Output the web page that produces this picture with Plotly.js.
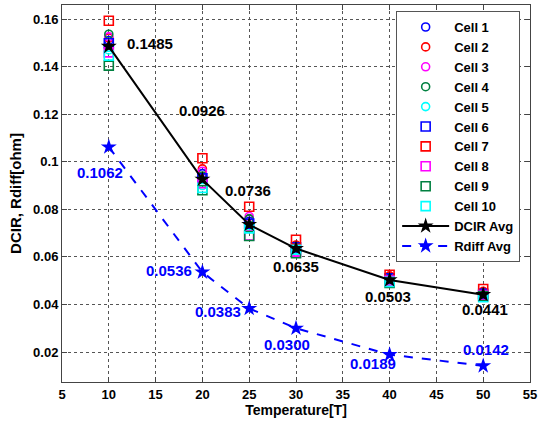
<!DOCTYPE html>
<html>
<head>
<meta charset="utf-8">
<script src="https://cdn.plot.ly/plotly-3.0.1.min.js"></script>
<style>html,body{margin:0;padding:0;background:#fff;}#chart{width:540px;height:423px;}</style>
</head>
<body>
<div id="chart"></div>
<script>
// Temperatures
const temps = [10, 20, 25, 30, 40, 50];
// Individual cell DCIR values (ohm)
const cell1  = [0.1510, 0.0950, 0.0750, 0.0640, 0.0510, 0.0450];
const cell2  = [0.1520, 0.0970, 0.0760, 0.0650, 0.0520, 0.0455];
const cell3  = [0.1525, 0.0960, 0.0770, 0.0620, 0.0500, 0.0440];
const cell4  = [0.1536, 0.0940, 0.0760, 0.0640, 0.0505, 0.0445];
const cell5  = [0.1470, 0.0900, 0.0730, 0.0630, 0.0500, 0.0435];
const cell6  = [0.1498, 0.0930, 0.0740, 0.0640, 0.0510, 0.0445];
const cell7  = [0.1593, 0.1015, 0.0811, 0.0672, 0.0525, 0.0465];
const cell8  = [0.1460, 0.0910, 0.0690, 0.0620, 0.0500, 0.0440];
const cell9  = [0.1404, 0.0880, 0.0688, 0.0615, 0.0490, 0.0435];
const cell10 = [0.1446, 0.0890, 0.0720, 0.0630, 0.0495, 0.0430];
// Averages
const dcirAvg  = [0.1485, 0.0926, 0.0736, 0.0635, 0.0503, 0.0441];
const rdiffAvg = [0.1062, 0.0536, 0.0383, 0.0300, 0.0189, 0.0142];
const dcirLabels  = ["0.1485", "0.0926", "0.0736", "0.0635", "0.0503", "0.0441"];
const rdiffLabels = ["0.1062", "0.0536", "0.0383", "0.0300", "0.0189", "0.0142"];
const cellNames = ["Cell 1","Cell 2","Cell 3","Cell 4","Cell 5","Cell 6","Cell 7","Cell 8","Cell 9","Cell 10"];
const cellData = [cell1, cell2, cell3, cell4, cell5, cell6, cell7, cell8, cell9, cell10];

const cellColors = ["#0000ff","#ff0000","#ff00ff","#008040","#00ffff","#0000ff","#ff0000","#ff00ff","#008040","#00ffff"];
const cellSymbols = ["circle-open","circle-open","circle-open","circle-open","circle-open","square-open","square-open","square-open","square-open","square-open"];

const FONT = "Liberation Sans, Arial, Helvetica, sans-serif";
const traces = [];
cellData.forEach((vals, i) => {
  traces.push({
    x: temps, y: vals, name: cellNames[i], type: "scatter", mode: "markers",
    marker: {symbol: cellSymbols[i], size: i < 5 ? 8 : 9, color: cellColors[i], line: {color: cellColors[i], width: 1.6}}
  });
});
traces.push({
  x: temps, y: dcirAvg, name: "DCIR Avg", type: "scatter", mode: "lines+markers",
  line: {color: "#000000", width: 2},
  marker: {symbol: "star", size: 12, color: "#000000", line: {width: 0}}
});
traces.push({
  x: temps, y: rdiffAvg, name: "Rdiff Avg", type: "scatter", mode: "lines+markers",
  line: {color: "#0000ff", width: 2, dash: "dash"},
  marker: {symbol: "star", size: 12, color: "#0000ff", line: {width: 0}}
});

// label offsets (pixels) relative to data points
const dcirShift  = [[41, 3], [0, 69], [-1, 34], [0, -18], [-2, -17], [2, -15]];
const rdiffShift = [[-9, -25], [-33, 2], [-31, -3], [-9, -16], [-17, -9], [3, 16]];
const annotations = [];
temps.forEach((t, i) => {
  annotations.push({x: t, y: dcirAvg[i], text: dcirLabels[i], showarrow: false,
    xshift: dcirShift[i][0], yshift: dcirShift[i][1],
    font: {family: FONT, size: 15, color: "#000000", weight: "bold"}});
  annotations.push({x: t, y: rdiffAvg[i], text: rdiffLabels[i], showarrow: false,
    xshift: rdiffShift[i][0], yshift: rdiffShift[i][1],
    font: {family: FONT, size: 15, color: "#0000ff", weight: "bold"}});
});

const axisCommon = {
  showline: true, mirror: "ticks", linecolor: "#444", linewidth: 1,
  ticks: "inside", ticklen: 5, tickcolor: "#444",
  showgrid: true, gridcolor: "#555", griddash: "dot", gridwidth: 1,
  zeroline: false,
  tickfont: {family: FONT, size: 13, color: "#000", weight: "bold"}
};

const layout = {
  width: 540, height: 423,
  margin: {l: 62, r: 10, t: 5, b: 41},
  paper_bgcolor: "#ffffff", plot_bgcolor: "#ffffff",
  showlegend: true,
  legend: {x: 0.714, y: 0.984, xanchor: "left", yanchor: "top",
    bgcolor: "#ffffff", bordercolor: "#555", borderwidth: 1, itemwidth: 47,
    font: {family: FONT, size: 13, color: "#000", weight: "bold"}, tracegroupgap: 0},
  xaxis: Object.assign({}, axisCommon, {range: [5, 55], dtick: 5, tick0: 5,
    title: {text: "Temperature[T]", standoff: 4, font: {family: FONT, size: 14, color: "#000", weight: "bold"}}}),
  yaxis: Object.assign({}, axisCommon, {range: [0.0074, 0.1659], dtick: 0.02, tick0: 0,
    title: {text: "DCIR, Rdiff[ohm]", standoff: 7, font: {family: FONT, size: 15, color: "#000", weight: "bold"}}}),
  annotations: annotations
};

Plotly.newPlot("chart", traces, layout, {displayModeBar: false, staticPlot: true});
</script>
</body>
</html>
